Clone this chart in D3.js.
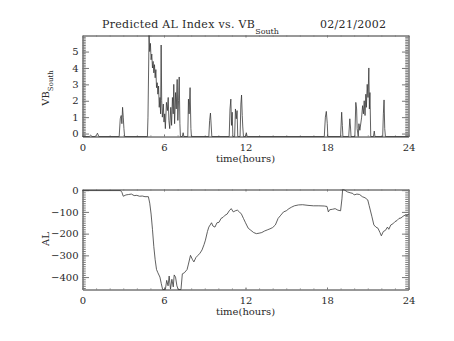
<!DOCTYPE html>
<html>
<head>
<meta charset="utf-8">
<script src="https://cdn.jsdelivr.net/npm/d3@7"></script>
<style>
  body { margin: 0; background: #fff; }
  svg text { font-family: "DejaVu Serif", serif; fill: #2a2a2a; }
</style>
</head>
<body>
<svg id="chart" width="454" height="341"></svg>
<script>
// Tick labels
const hourTicks = [0, 6, 12, 18, 24];
const vbTicks = [0, 1, 2, 3, 4, 5];
const alTicks = [0, -100, -200, -300, -400];

// VB_South (mV/m) samples, time in hours UT
const vbTime = [0, 0.5, 0.6, 0.7, 0.95, 1.05, 1.1, 1.2, 2.7, 2.78, 2.85, 2.9, 2.95, 3.0, 3.05, 3.1,
  4.78, 4.82, 4.9, 4.95, 5.0, 5.05, 5.1, 5.15, 5.2, 5.25, 5.3, 5.35, 5.4, 5.45, 5.5, 5.55, 5.6, 5.65,
  5.7, 5.75, 5.79, 5.83, 5.88, 5.95, 6.0, 6.05, 6.1, 6.18, 6.25, 6.31, 6.36, 6.42, 6.5, 6.56, 6.62,
  6.68, 6.72, 6.78, 6.85, 6.9, 6.97, 7.02, 7.07, 7.12, 7.17, 7.21, 7.35, 7.41, 7.46, 7.75, 7.8, 7.85,
  7.92, 7.98, 8.02, 9.3, 9.36, 9.42, 9.48, 9.52, 10.8, 10.86, 10.92, 10.97, 11.02, 11.07, 11.2, 11.26,
  11.32, 11.38, 11.43, 11.6, 11.66, 11.71, 11.76, 11.8, 11.85, 12.0, 12.06, 12.12, 17.8, 17.88, 17.95,
  18.02, 18.06, 19.0, 19.08, 19.13, 19.17, 19.6, 19.68, 19.73, 19.77, 20.05, 20.12, 20.18, 20.22,
  20.3, 20.35, 20.42, 20.55, 20.62, 20.68, 20.74, 20.8, 20.86, 20.9, 20.96, 21.02, 21.08, 21.12,
  21.16, 21.22, 21.42, 21.48, 21.53, 22.1, 22.15, 22.2, 22.25, 22.3, 24];
const vbValue = [-0.18, -0.18, -0.1, -0.18, -0.18, -0.05, 0.02, -0.18, -0.18, 0.9, 1.1, 0.6, 1.6, 1.0, 0.3, -0.18,
  -0.18, 1.0, 5.98, 5.0, 5.5, 4.5, 4.85, 4.0, 4.4, 3.7, 4.2, 3.4, 3.9, 2.8, 3.1, 2.4, 2.9, 1.6,
  2.2, 1.2, 5.4, 2.0, 1.0, 1.8, 0.7, 1.2, 0.3, 1.9, 1.4, 2.2, 0.8, 0.3, 1.6, 0.5, 2.2,
  1.2, 3.0, 0.6, 2.5, 1.5, 3.3, 0.8, 2.0, 3.45, 0.6, -0.18, -0.18, 0.05, -0.18, -0.18, 2.1, 1.2,
  2.8, 0.3, -0.18, -0.18, 0.8, 1.25, 0.4, -0.18, -0.18, 1.5, 2.1, 0.5, 1.3, -0.18, -0.18, 1.5,
  0.9, 1.4, -0.18, -0.18, 1.8, 2.35, 1.1, 0.4, -0.18, -0.18, 0.05, -0.18, -0.18, 1.0, 1.35,
  0.6, -0.18, -0.18, 1.3, 0.5, -0.18, -0.18, 0.9, 0.4, -0.18, -0.18, 1.9, 1.5, 0.3,
  -0.18, 0.6, 0.2, 1.0, 1.7, 1.2, 2.0, 1.1, 2.4, 1.6, 3.0, 2.2, 4.0, 1.5,
  2.5, -0.18, -0.18, 0.15, -0.18, -0.18, 1.2, 2.05, 0.3, -0.18, -0.18];

// Predicted AL index (nT)
const alTime = [0, 2.8, 2.9, 3.0, 3.2, 3.4, 3.6, 3.8, 4.0, 4.2, 4.4, 4.6, 4.85, 4.95, 5.05, 5.15,
  5.25, 5.35, 5.45, 5.55, 5.7, 5.8, 5.9, 6.1, 6.2, 6.3, 6.38, 6.48, 6.58, 6.68, 6.75, 6.85, 6.95,
  7.05, 7.25, 7.35, 7.5, 7.7, 7.8, 7.95, 8.1, 8.2, 8.35, 8.5, 8.65, 8.8, 8.95, 9.05, 9.2, 9.3, 9.4,
  9.5, 9.6, 9.75, 9.9, 10.05, 10.2, 10.35, 10.5, 10.65, 10.8, 10.95, 11.1, 11.25, 11.4, 11.55, 11.7,
  11.85, 12.0, 12.2, 12.4, 12.6, 12.8, 13.0, 13.2, 13.4, 13.6, 13.8, 14.0, 14.2, 14.4, 14.6, 14.8,
  15.0, 15.2, 15.4, 15.6, 15.9, 16.2, 16.6, 17.0, 17.4, 17.8, 18.0, 18.1, 18.2, 18.4, 18.6, 18.8,
  19.0, 19.1, 19.15, 19.3, 19.5, 19.7, 19.9, 20.0, 20.2, 20.4, 20.6, 20.8, 21.0, 21.1, 21.3, 21.45,
  21.6, 21.75, 21.9, 22.0, 22.15, 22.3, 22.45, 22.55, 22.7, 22.85, 23.0, 23.15, 23.3, 23.45, 23.6,
  23.75, 23.9, 24.0];
const alValue = [-2, -2, -10, -28, -22, -20, -18, -25, -24, -28, -27, -30, -30, -60, -110, -180,
  -260, -320, -365, -380, -400, -430, -457, -457, -415, -440, -395, -455, -410, -445, -390, -400, -440,
  -457, -457, -385, -380, -365, -340, -300, -320, -330, -310, -300, -290, -275, -250, -230, -190, -170, -160,
  -150, -165, -170, -150, -148, -130, -125, -115, -110, -95, -85, -100, -95, -92, -100, -110,
  -130, -150, -175, -185, -195, -200, -198, -195, -188, -183, -178, -172, -160, -130, -115, -100,
  -95, -85, -78, -72, -68, -67, -70, -72, -72, -73, -75, -100, -90, -88, -85, -92,
  -95, -40, 3, 0, -8, -12, -15, -22, -18, -20, -30, -35, -45, -70, -120, -160,
  -170, -175, -195, -210, -190, -185, -170, -180, -160, -155, -145, -140, -130, -128, -120,
  -115, -118, -110];

const svg = d3.select("#chart");
const left = 82.5, right = 408.5;
const x = d3.scaleLinear().domain([0, 24]).range([left, right]);
const hourMinor = d3.range(0, 24.001, 1);

const axisColor = "#777";
const lineColor = "#383838";

function drawPanel(cfg) {
  const y = d3.scaleLinear().domain(cfg.yDomain).range([cfg.bottom, cfg.top]);
  const g = svg.append("g");
  const xLen = 0.02 * (cfg.bottom - cfg.top);
  const yLen = 0.02 * (right - left);
  const yMinor = d3.range(Math.ceil(cfg.yDomain[0] / cfg.minorStep) * cfg.minorStep,
                          cfg.yDomain[1] + 1e-9, cfg.minorStep);

  const addAxis = (axis, tx, ty, labels) => {
    const a = g.append("g").attr("transform", `translate(${tx},${ty})`).call(axis);
    a.selectAll("path, line").attr("stroke", axisColor).attr("stroke-width", 1);
    if (!labels) a.selectAll("text").remove();
    return a;
  };

  // minor ticks on all four sides
  addAxis(d3.axisBottom(x).tickValues(hourMinor).tickSize(-xLen / 2).tickSizeOuter(0), 0, cfg.bottom, false);
  addAxis(d3.axisTop(x).tickValues(hourMinor).tickSize(-xLen / 2).tickSizeOuter(0), 0, cfg.top, false);
  addAxis(d3.axisLeft(y).tickValues(yMinor).tickSize(-yLen / 2).tickSizeOuter(0), left, 0, false);
  addAxis(d3.axisRight(y).tickValues(yMinor).tickSize(-yLen / 2).tickSizeOuter(0), right, 0, false);

  // major ticks
  const xb = addAxis(d3.axisBottom(x).tickValues(hourTicks).tickSize(-xLen).tickSizeOuter(0)
      .tickPadding(7).tickFormat(d3.format("d")), 0, cfg.bottom, true);
  xb.selectAll("text").attr("font-size", 10);
  addAxis(d3.axisTop(x).tickValues(hourTicks).tickSize(-xLen).tickSizeOuter(0), 0, cfg.top, false);
  const yl = addAxis(d3.axisLeft(y).tickValues(cfg.yTicks).tickSize(-yLen).tickSizeOuter(0)
      .tickPadding(4).tickFormat(d3.format("d")), left, 0, true);
  yl.selectAll("text").attr("font-size", 10);
  addAxis(d3.axisRight(y).tickValues(cfg.yTicks).tickSize(-yLen).tickSizeOuter(0), right, 0, false);

  // data trace
  const line = d3.line().x((d, i) => x(cfg.time[i])).y((d) => y(d));
  g.append("path").datum(cfg.value)
    .attr("d", line).attr("fill", "none")
    .attr("stroke", lineColor).attr("stroke-width", 0.8);

  // x axis title
  g.append("text").attr("x", (left + right) / 2).attr("y", cfg.bottom + 25)
    .attr("text-anchor", "middle").attr("font-size", 10).text("time(hours)");

  return { g, y };
}

const vbPanel = drawPanel({ top: 35.5, bottom: 136.5, yDomain: [-0.18, 5.98], yTicks: vbTicks,
  minorStep: 0.1, time: vbTime, value: vbValue });
const alPanel = drawPanel({ top: 189.5, bottom: 289.5, yDomain: [-457, 3], yTicks: alTicks,
  minorStep: 10, time: alTime, value: alValue });

// y axis titles
const vbLabel = svg.append("text").attr("transform", "translate(49,88) rotate(-90)")
  .attr("text-anchor", "middle").attr("font-size", 10);
vbLabel.append("tspan").text("VB");
vbLabel.append("tspan").attr("font-size", 7).attr("dy", 4).text("South");

svg.append("text").attr("transform", "translate(49,239) rotate(-90)")
  .attr("text-anchor", "middle").attr("font-size", 10).text("AL");

// title
const title = svg.append("text").attr("x", 102).attr("y", 28).attr("font-size", 11)
  .attr("letter-spacing", 0.3);
title.append("tspan").text("Predicted AL Index vs. VB");
title.append("tspan").attr("font-size", 8).attr("dy", 6).attr("letter-spacing", 0).text("South");
title.append("tspan").attr("dy", -6).attr("x", 320).text("02/21/2002");
</script>
</body>
</html>
